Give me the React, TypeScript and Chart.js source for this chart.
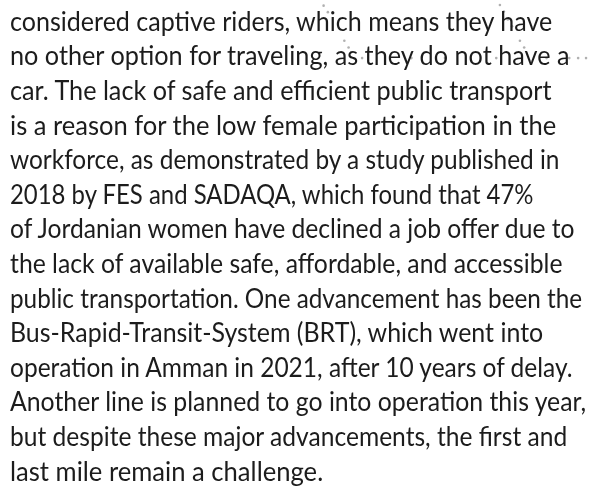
import React, { useEffect, useLayoutEffect, useRef } from "react";
import { Chart, registerables } from "chart.js";

Chart.register(...registerables);

const textLines: string[] = [
  "considered captive riders, which means they have",
  "no other option for traveling, as they do not have a",
  "car. The lack of safe and efficient public transport",
  "is a reason for the low female participation in the",
  "workforce, as demonstrated by a study published in",
  "2018 by FES and SADAQA, which found that 47%",
  "of Jordanian women have declined a job offer due to",
  "the lack of available safe, affordable, and accessible",
  "public transportation. One advancement has been the",
  "Bus-Rapid-Transit-System (BRT), which went into",
  "operation in Amman in 2021, after 10 years of delay.",
  "Another line is planned to go into operation this year,",
  "but despite these major advancements, the first and",
  "last mile remain a challenge.",
];

// right edge of each text line (px)
const lineEnds: number[] = [551.7, 569, 551, 555.7, 559, 533, 574, 562, 581.7, 542.7, 572, 585.7, 566.7, 322.7];

// decorative dotted guide lines
const diagAX: number[] = [502.7, 506.7, 510.7, 515, 523, 527.3];
const diagAY: number[] = [1, 7.7, 15.7, 22.7, 37.3, 44.3];
const diagBX: number[] = [324, 328.3, 345, 349.3];
const diagBY: number[] = [1.7, 8.3, 37.3, 44.3];
const horizX: number[] = [363, 413, 447, 499, 550, 573, 582, 590];
const horizY: number[] = [55, 55, 55, 55, 55, 55, 55, 55];

const W = 592;
const H = 486;
const FONT_SIZE = 27;
const LEFT = 9.5;
const FIRST_BASELINE = 30.7;
const LINE_STEP = 34.6;

function toPts(xs: number[], ys: number[]) {
  return xs.map((x, i) => ({ x, y: ys[i] }));
}

export default function App() {
  const canvasRef = useRef<HTMLCanvasElement | null>(null);
  const spanRefs = useRef<(HTMLSpanElement | null)[]>([]);

  useEffect(() => {
    if (!canvasRef.current) return;
    const dotStyle = {
      showLine: false,
      pointRadius: 1.3,
      pointBackgroundColor: "rgba(150,150,150,0.75)",
      pointBorderWidth: 0,
      clip: false as any,
    };
    const chart = new Chart(canvasRef.current, {
      type: "scatter",
      data: {
        datasets: [
          { data: toPts(diagAX, diagAY), ...dotStyle },
          { data: toPts(diagBX, diagBY), ...dotStyle },
          { data: toPts(horizX, horizY), ...dotStyle },
        ],
      },
      options: {
        responsive: false,
        maintainAspectRatio: false,
        animation: false,
        layout: { padding: 0 },
        scales: {
          x: { type: "linear", min: 0, max: W, display: false },
          y: { type: "linear", min: 0, max: H, reverse: true, display: false },
        },
        plugins: { legend: { display: false }, tooltip: { enabled: false } },
        events: [],
      },
    });
    return () => chart.destroy();
  }, []);

  useLayoutEffect(() => {
    spanRefs.current.forEach((el, i) => {
      if (!el) return;
      el.style.transform = "none";
      const w = el.getBoundingClientRect().width;
      const target = lineEnds[i] - LEFT;
      if (w > 0) el.style.transform = `scaleX(${target / w})`;
    });
  }, []);

  const baseOffset = FONT_SIZE * 0.887;

  return (
    <div style={{ position: "absolute", left: 0, top: 0, width: W, height: H, background: "#fff", overflow: "hidden" }}>
      <canvas ref={canvasRef} width={W} height={H} style={{ position: "absolute", left: 0, top: 0, width: W, height: H }} />
      {textLines.map((t, i) => (
        <span
          key={i}
          ref={(el) => {
            spanRefs.current[i] = el;
          }}
          style={{
            position: "absolute",
            left: LEFT,
            top: FIRST_BASELINE + i * LINE_STEP - baseOffset,
            fontFamily: "Lato, sans-serif",
            fontSize: FONT_SIZE,
            lineHeight: 1,
            color: "#1c1c1c",
            whiteSpace: "nowrap",
            transformOrigin: "0 0",
          }}
        >
          {t}
        </span>
      ))}
    </div>
  );
}
